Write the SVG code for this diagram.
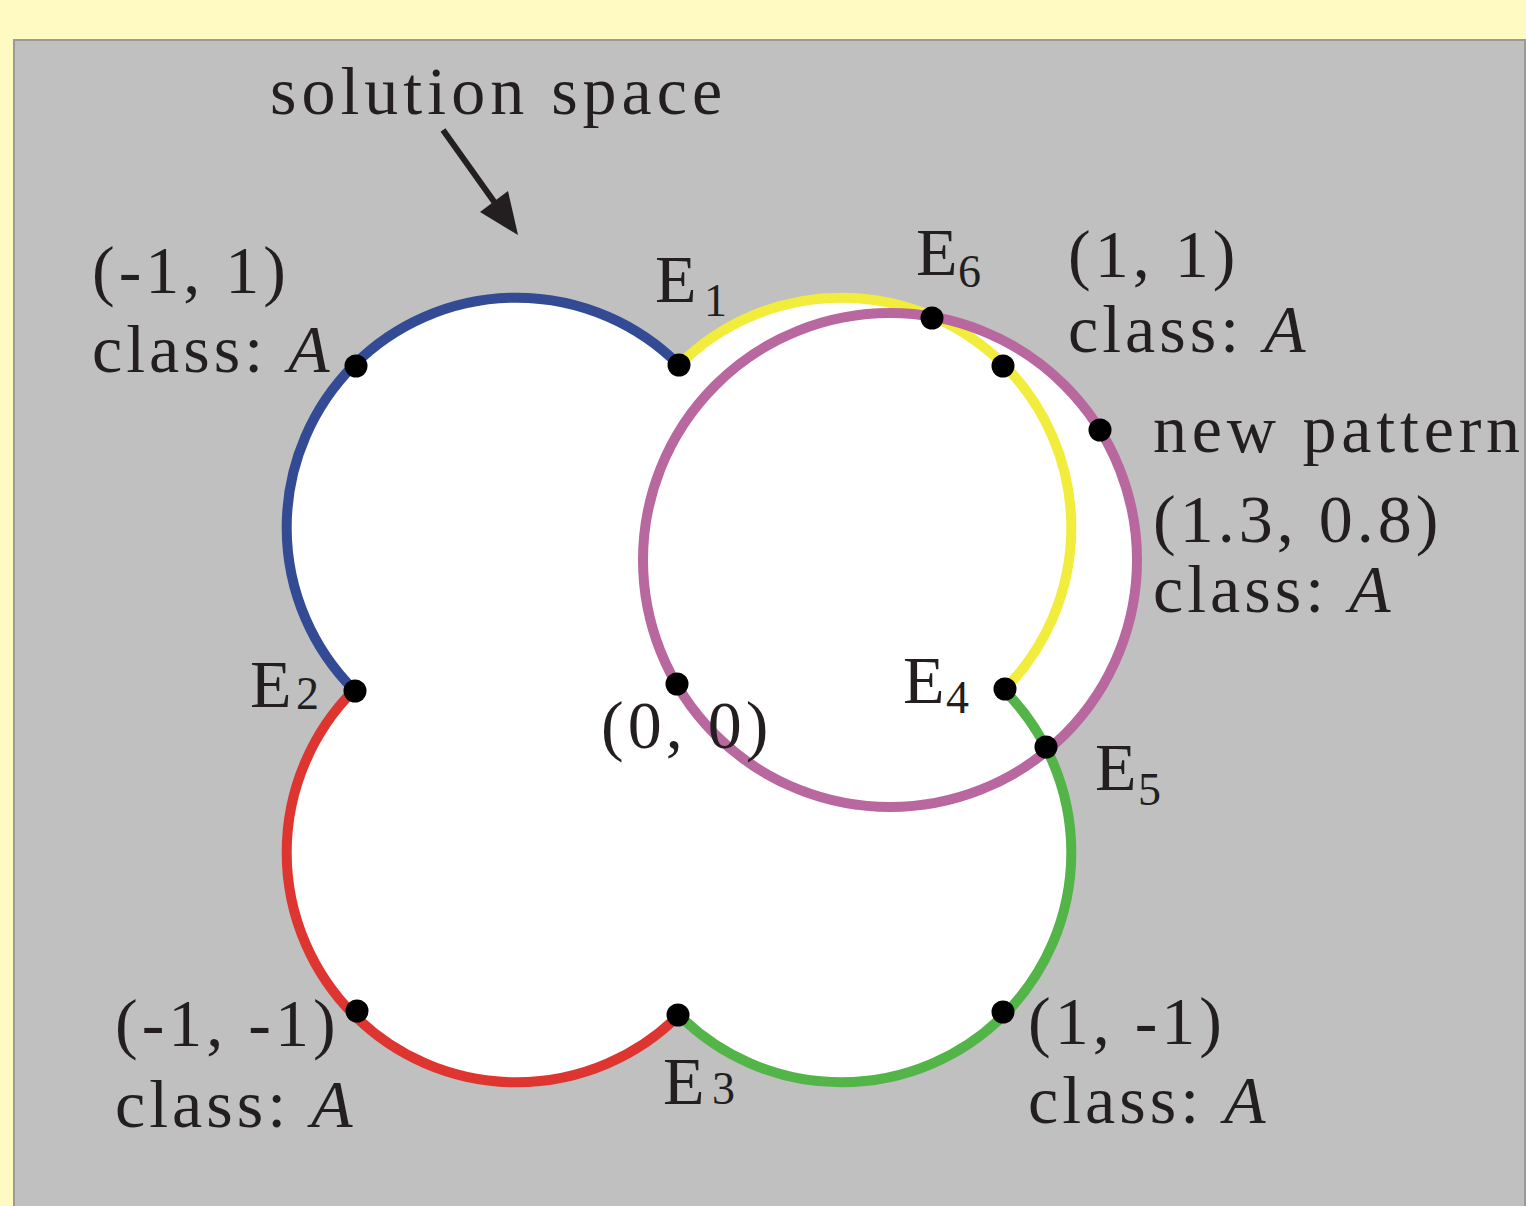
<svg xmlns="http://www.w3.org/2000/svg" width="1526" height="1206" viewBox="0 0 1526 1206">
<style>
.t{font-family:"Liberation Serif","Times New Roman",serif;font-size:68px;fill:#231F20;letter-spacing:4px}
.e{letter-spacing:0}
.it{font-style:italic}
.sub{font-size:46px;letter-spacing:0}
.arc{fill:none;stroke-width:10;stroke-linecap:butt}
.fill{fill:#FFFFFF;stroke:none}
.dot{fill:#000000}
</style>
<rect x="0" y="0" width="1526" height="1206" fill="#FFF9C2"/>
<rect x="14" y="40" width="1511" height="1200" fill="#C0C0C0" stroke="#9A9A9A" stroke-width="2"/>
<g id="fills">
<circle class="fill" cx="516.5" cy="527.5" r="229.8"/>
<circle class="fill" cx="841.5" cy="527.5" r="229.8"/>
<circle class="fill" cx="516.5" cy="852.5" r="229.8"/>
<circle class="fill" cx="841.5" cy="852.5" r="229.8"/>
<circle class="fill" cx="890" cy="560" r="247"/>
</g>
<g id="connectors">
<path id="arc-blue" class="arc" stroke="#334A95" d="M354,690 A229.8,229.8 0 0 1 354,365 A229.8,229.8 0 0 1 679,365"/>
<path id="arc-red" class="arc" stroke="#DF3530" d="M354,690 A229.8,229.8 0 0 0 354,1015 A229.8,229.8 0 0 0 679,1015"/>
<path id="arc-green" class="arc" stroke="#53B447" d="M679,1015 A229.8,229.8 0 0 0 1004,1015 A229.8,229.8 0 0 0 1004,690"/>
<path id="arc-yellow" class="arc" stroke="#F2EC3C" d="M679,365 A229.8,229.8 0 0 1 1004,365 A229.8,229.8 0 0 1 1004,690"/>
<circle id="circle-magenta" class="arc" stroke="#B8689F" cx="890" cy="560" r="247"/>
<line x1="443" y1="130" x2="500" y2="210" stroke="#231F20" stroke-width="6"/>
<polygon points="518,235 480,212 508,191" fill="#231F20"/>
</g>
<g id="dots">
<circle class="dot" cx="356" cy="366" r="11.5"/>
<circle class="dot" cx="679" cy="365" r="11.5"/>
<circle class="dot" cx="932" cy="318" r="11.5"/>
<circle class="dot" cx="1003" cy="366" r="11.5"/>
<circle class="dot" cx="1100" cy="430" r="11.5"/>
<circle class="dot" cx="355" cy="691" r="11.5"/>
<circle class="dot" cx="677" cy="684" r="11.5"/>
<circle class="dot" cx="1005" cy="689" r="11.5"/>
<circle class="dot" cx="1046" cy="747" r="11.5"/>
<circle class="dot" cx="357" cy="1011" r="11.5"/>
<circle class="dot" cx="678" cy="1015" r="11.5"/>
<circle class="dot" cx="1003" cy="1012" r="11.5"/>
</g>
<g id="label-solution"><text class="t" x="270" y="114" font-size="70" style="letter-spacing:5px">solution space</text></g>
<g id="node-m1p1"><text class="t" x="92" y="293">(-1, 1)</text><text class="t" x="92" y="372">class: <tspan class="it">A</tspan></text></g>
<g id="node-p1p1"><text class="t" x="1068" y="277">(1, 1)</text><text class="t" x="1068" y="352">class: <tspan class="it">A</tspan></text></g>
<g id="node-new"><text class="t" x="1153" y="452" style="letter-spacing:4.8px">new pattern</text><text class="t" x="1153" y="542">(1.3, 0.8)</text><text class="t" x="1153" y="612">class: <tspan class="it">A</tspan></text></g>
<g id="node-origin"><text class="t" x="601" y="748">(0, 0)</text></g>
<g id="node-m1m1"><text class="t" x="115" y="1046">(-1, -1)</text><text class="t" x="115" y="1127">class: <tspan class="it">A</tspan></text></g>
<g id="node-p1m1"><text class="t" x="1028" y="1044">(1, -1)</text><text class="t" x="1028" y="1123">class: <tspan class="it">A</tspan></text></g>
<g id="node-E1"><text class="t e" x="655" y="302">E</text><text class="t sub" x="704" y="316">1</text></g>
<g id="node-E6"><text class="t e" x="916" y="275">E</text><text class="t sub" x="958" y="287" font-size="40">6</text></g>
<g id="node-E2"><text class="t e" x="250" y="707">E</text><text class="t sub" x="296" y="709" font-size="44">2</text></g>
<g id="node-E4"><text class="t e" x="903" y="703">E</text><text class="t sub" x="946" y="713" font-size="44">4</text></g>
<g id="node-E5"><text class="t e" x="1095" y="790">E</text><text class="t sub" x="1138" y="805">5</text></g>
<g id="node-E3"><text class="t e" x="663" y="1104">E</text><text class="t sub" x="712" y="1104" font-size="44">3</text></g>
</svg>
